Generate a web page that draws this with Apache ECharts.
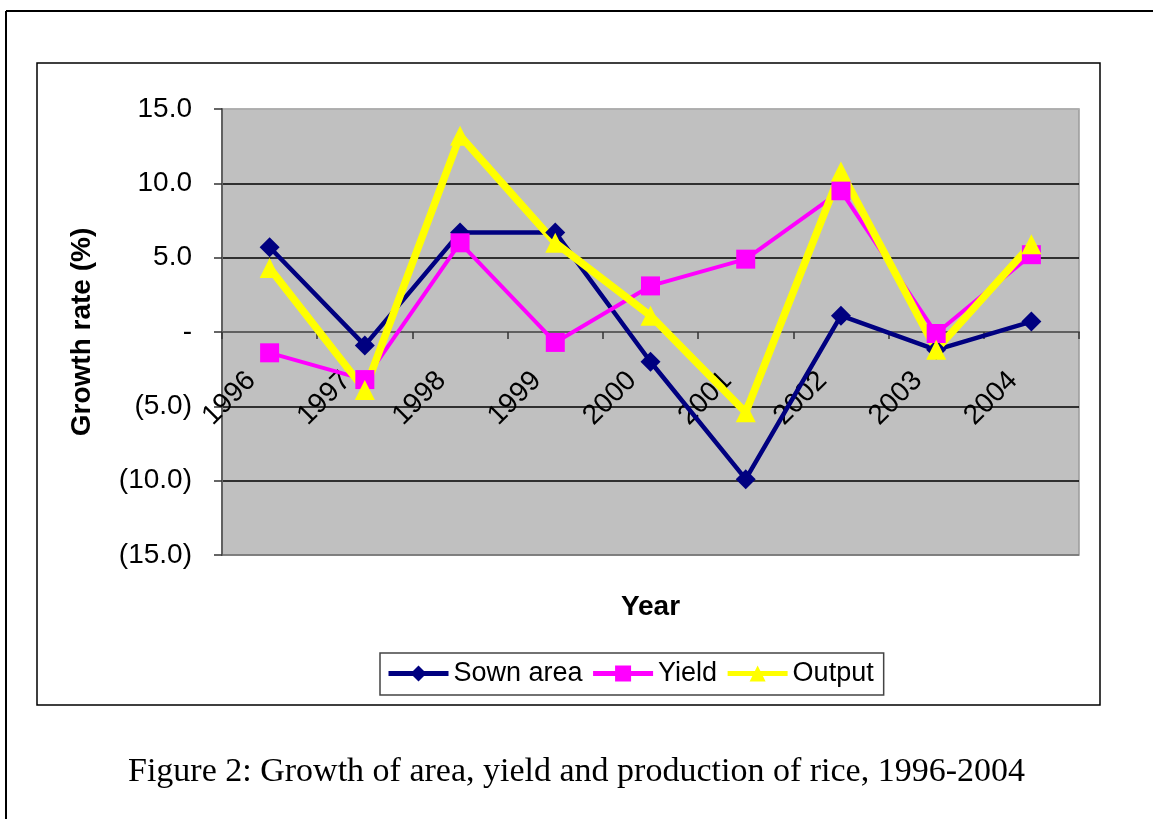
<!DOCTYPE html>
<html>
<head>
<meta charset="utf-8">
<script src="https://cdn.jsdelivr.net/npm/echarts@6/dist/echarts.min.js"></script>
<style>
  html, body { margin: 0; padding: 0; background: #fff; }
  #chart { width: 1153px; height: 819px; }
</style>
</head>
<body>
<div id="chart"></div>
<script>
// data
var years = ["1996", "1997", "1998", "1999", "2000", "2001", "2002", "2003", "2004"];
var sownArea = [5.7, -0.9, 6.7, 6.7, -2.0, -9.9, 1.1, -1.2, 0.7];
var yieldRate = [-1.4, -3.2, 6.0, -0.7, 3.1, 4.9, 9.5, -0.1, 5.2];
var outputRate = [4.3, -3.9, 13.2, 6.0, 1.1, -5.4, 10.8, -1.2, 5.9];

var font = "Liberation Sans";

// excel style number format: 15.0 / - / (5.0)
function fmt(v) {
  if (v === 0) return "-";
  if (v < 0) return "(" + Math.abs(v).toFixed(1) + ")";
  return v.toFixed(1);
}

var chart = echarts.init(document.getElementById("chart"));
chart.setOption({
  backgroundColor: "#fff",
  animation: false,
  title: {
    text: "Figure 2: Growth of area, yield and production of rice, 1996-2004",
    left: "center",
    top: 750,
    textStyle: { fontFamily: "Liberation Serif", fontSize: 34, fontWeight: "normal", color: "#000" }
  },
  graphic: [
    { type: "line", shape: { x1: 6, y1: 11, x2: 1153, y2: 11 }, style: { stroke: "#000", lineWidth: 2 } },
    { type: "line", shape: { x1: 6, y1: 11, x2: 6, y2: 819 }, style: { stroke: "#000", lineWidth: 2 } },
    { type: "rect", shape: { x: 37, y: 63, width: 1063, height: 642 }, style: { fill: null, stroke: "#000", lineWidth: 1.5 }, z: -1 }
  ],
  legend: {
    left: 380,
    top: 653,
    itemWidth: 60,
    itemHeight: 20,
    itemGap: 8,
    padding: [7, 10, 8, 6],
    borderColor: "#444",
    borderWidth: 1.5,
    lineStyle: { width: 5 },
    textStyle: { fontFamily: font, fontSize: 27, color: "#000" },
    data: ["Sown area", "Yield", "Output"]
  },
  grid: {
    left: 222,
    top: 109,
    width: 857,
    height: 446,
    outerBoundsMode: "none",
    containLabel: false,
    show: true,
    backgroundColor: "#C0C0C0",
    borderColor: "#9a9a9a",
    borderWidth: 1.5
  },
  xAxis: {
    type: "category",
    data: years,
    boundaryGap: true,
    offset: -223,
    name: "Year",
    nameLocation: "middle",
    nameGap: 261,
    nameTextStyle: { fontFamily: font, fontSize: 28, fontWeight: "bold", color: "#000" },
    axisLine: { onZero: false, lineStyle: { color: "#606060", width: 2 } },
    axisTick: { show: true, length: 7, lineStyle: { color: "#333", width: 1.5 } },
    axisLabel: { rotate: 45, margin: 26, padding: [0, 26, 0, 0], fontFamily: font, fontSize: 28, color: "#000" }
  },
  yAxis: {
    type: "value",
    min: -15,
    max: 15,
    interval: 5,
    name: "Growth rate (%)",
    nameLocation: "middle",
    nameGap: 126,
    nameRotate: 90,
    nameTextStyle: { fontFamily: font, fontSize: 28, fontWeight: "bold", color: "#000" },
    axisLine: { show: true, lineStyle: { color: "#606060", width: 2 } },
    axisTick: { show: true, length: 8, lineStyle: { color: "#333", width: 1.5 } },
    axisLabel: { margin: 30, fontFamily: font, fontSize: 28, color: "#000", formatter: fmt },
    splitLine: {
      show: true,
      lineStyle: { color: ["#707070", "#000", "#000", "#707070", "#000", "#000", "#b0b0b0"], width: 1.5 }
    }
  },
  series: [
    {
      name: "Sown area",
      type: "line",
      data: sownArea,
      symbol: "diamond",
      symbolSize: 20,
      itemStyle: { color: "#000080" },
      lineStyle: { color: "#000080", width: 4.5 }
    },
    {
      name: "Yield",
      type: "line",
      data: yieldRate,
      symbol: "rect",
      symbolSize: 19,
      itemStyle: { color: "#FF00FF" },
      lineStyle: { color: "#FF00FF", width: 4 }
    },
    {
      name: "Output",
      type: "line",
      data: outputRate,
      symbol: "triangle",
      symbolSize: 20,
      itemStyle: { color: "#FFFF00" },
      lineStyle: { color: "#FFFF00", width: 7.5 }
    }
  ]
});
</script>
</body>
</html>
